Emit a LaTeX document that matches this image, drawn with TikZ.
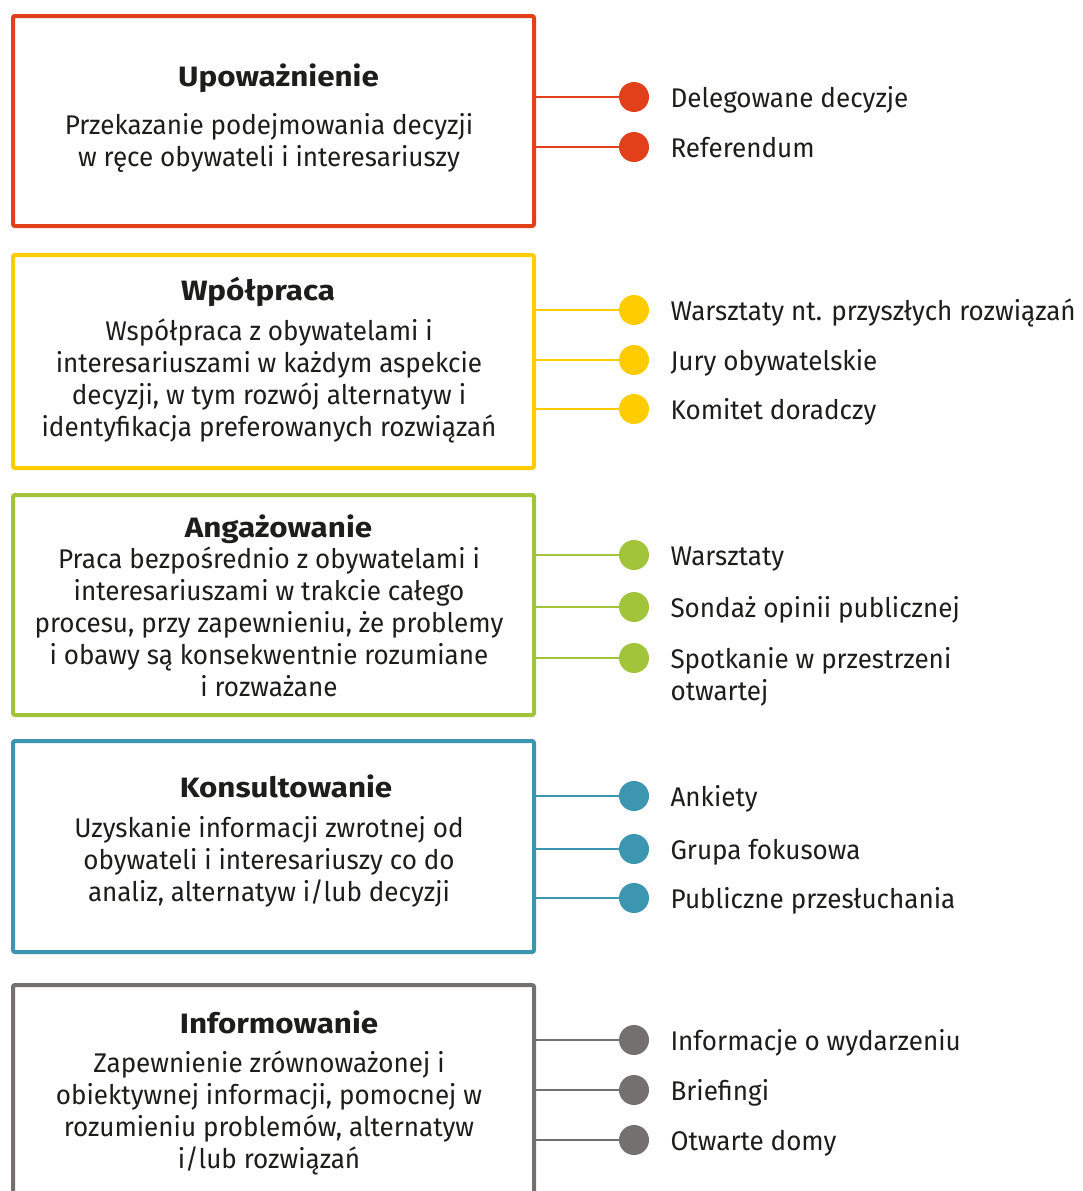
\documentclass[tikz,border=0pt]{standalone}
\usepackage{fontspec}
\setmainfont{Fira Sans}[FakeStretch=0.965]
\newfontfamily\titlefont{Fira Sans}[FakeStretch=1.12]
\usetikzlibrary{positioning}
\definecolor{upowred}{HTML}{E2401B}
\definecolor{wspyellow}{HTML}{FFCC00}
\definecolor{angagreen}{HTML}{A2C43A}
\definecolor{konsteal}{HTML}{3C96AF}
\definecolor{infogray}{HTML}{747070}
\definecolor{ink}{HTML}{1D1D1B}
\tikzset{
    ladder diagram/.style = {x=1pt, y=-1pt},
    level/.style          = {draw, line width=4pt, rounded corners=2pt,
                             minimum width=521pt, inner sep=0pt},
    leveltitle/.style     = {text=ink, anchor=base,
                             font=\fontsize{28}{32}\titlefont\bfseries},
    levelbody/.style      = {text=ink, anchor=base, align=center,
                             font=\fontsize{27}{32}\selectfont},
    dot/.style            = {circle, inner sep=0pt, minimum size=30pt},
    link/.style           = {line width=2pt},
    item/.style           = {text=ink, anchor=base west,
                             font=\fontsize{27}{32}\selectfont}
}
% body nodes sit on the baseline of their last line
\newcommand{\levelbox}[4]{%
    \node[level, draw=#2, minimum height={#4-#3}]
        (#1) at (273.5,{(#3+#4)/2}) {};
}
\newcommand{\tool}[5]{%
    \node[dot, fill=#3] (#1) at (634,#4) {};
    \draw[link, draw=#3] (#1.center -| #2.east) -- (#1);
    \node[item] (#1-label) at ([xshift=33pt, yshift=-10pt]#1.center) {#5};
}

\begin{document}
\begin{tikzpicture}[ladder diagram]
\useasboundingbox (0,0) rectangle (1082,1191);
\clip (0,0) rectangle (1082,1191);

% Empowerment.
\levelbox{upow}{upowred}{16}{226}
\node[leveltitle] (upow-title) at (278.5,86) {Upoważnienie};
\node[levelbody] (upow-body) at (269,166)
    {Przekazanie podejmowania decyzji\\w ręce obywateli i interesariuszy};
\tool{deleg}{upow}{upowred}{97}{Delegowane decyzje}
\tool{refer}{upow}{upowred}{147}{Referendum}

% Collaboration.
\levelbox{wsp}{wspyellow}{255}{468}
\node[leveltitle] (wsp-title) at (258,300) {Wpółpraca};
\node[levelbody] (wsp-body) at (269,436)
    {Współpraca z obywatelami i\\interesariuszami w każdym aspekcie\\
     decyzji, w tym rozwój alternatyw i\\identyfikacja preferowanych rozwiązań};
\tool{warfut}{wsp}{wspyellow}{310}{Warsztaty nt. przyszłych rozwiązań}
\tool{jury}{wsp}{wspyellow}{360}{Jury obywatelskie}
\tool{komit}{wsp}{wspyellow}{409}{Komitet doradczy}

% Involvement.
\levelbox{anga}{angagreen}{495}{715}
\node[leveltitle] (anga-title) at (278.5,537) {Angażowanie};
\node[levelbody] (anga-body) at (269,696)
    {Praca bezpośrednio z obywatelami i\\interesariuszami w trakcie całego\\
     procesu, przy zapewnieniu, że problemy\\i obawy są konsekwentnie rozumiane\\
     i rozważane};
\tool{warsz}{anga}{angagreen}{555}{Warsztaty}
\tool{sondaz}{anga}{angagreen}{607}{Sondaż opinii publicznej}
\tool{open}{anga}{angagreen}{658}{\vtop{\hbox{Spotkanie w przestrzeni}\hbox{otwartej}}}

% Consultation.
\levelbox{kons}{konsteal}{741}{952}
\node[leveltitle] (kons-title) at (286,797) {Konsultowanie};
\node[levelbody] (kons-body) at (269,901)
    {Uzyskanie informacji zwrotnej od\\obywateli i interesariuszy co do\\
     analiz, alternatyw i/lub decyzji};
\tool{ankiety}{kons}{konsteal}{796}{Ankiety}
\tool{fokus}{kons}{konsteal}{849}{Grupa fokusowa}
\tool{hear}{kons}{konsteal}{898}{Publiczne przesłuchania}

% Information (box runs off the bottom edge).
\levelbox{info}{infogray}{985}{1260}
\node[leveltitle] (info-title) at (279,1033) {Informowanie};
\node[levelbody] (info-body) at (269,1168)
    {Zapewnienie zrównoważonej i\\obiektywnej informacji, pomocnej w\\
     rozumieniu problemów, alternatyw\\i/lub rozwiązań};
\tool{event}{info}{infogray}{1040}{Informacje o wydarzeniu}
\tool{brief}{info}{infogray}{1090}{Briefingi}
\tool{house}{info}{infogray}{1140}{Otwarte domy}

\end{tikzpicture}
\end{document}
